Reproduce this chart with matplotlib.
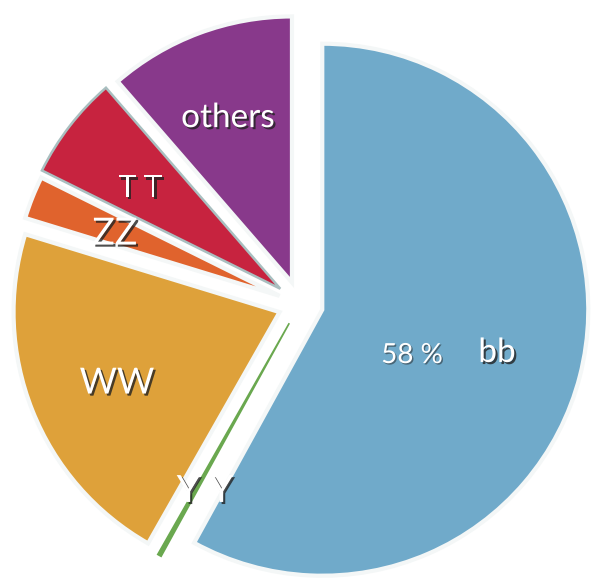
import numpy as np
import matplotlib.pyplot as plt
import matplotlib.patheffects as pe

# Higgs boson decay branching ratios (percent), counter-clockwise from the top
channels = ["others", "T T", "ZZ", "WW", "Y Y", "bb"]
fractions = [11.37, 6.3, 2.6, 21.5, 0.23, 58.0]
colors = ["#88398b", "#c7233f", "#e0632d", "#dea13a", "#6aa84f", "#70aaca"]
explode = [23, 25, 22, 22, 22, 23]

# label placement: (radial fraction, angle shift in deg, font size)
label_pos = {
    "others": (0.663, 0.8, 24),
    "T T": (0.649, 2.0, 22),
    "ZZ": (0.662, 1.0, 27),
    "WW": (0.667, 1.9, 26),
    "Y Y": (0.706, 2.5, 27),
    "bb": (0.677, 0.5, 24),
}

plt.rcParams["font.family"] = ["Lato", "DejaVu Sans"]

fig = plt.figure(figsize=(5.91, 5.83), dpi=100)
ax = fig.add_axes([0, 0, 1, 1])

R = 266
wedges, _ = ax.pie(fractions, colors=colors, startangle=90, counterclock=True,
                   explode=explode, radius=R, center=(300, 279),
                   wedgeprops=dict(edgecolor="#f4f7f7", linewidth=3))

# the gamma-gamma sliver is just a green line
wedges[4].set_edgecolor("#6aa84f")
wedges[4].set_linewidth(1.2)
# thin grey seam on the tau-tau wedge
wedges[1].set_edgecolor("#a9bfc0")
wedges[1].set_linewidth(1.8)


def shadowed(dx=1.5, alpha=0.8):
    return [pe.SimplePatchShadow(offset=(dx, -dx), shadow_rgbFace="#222222", alpha=alpha), pe.Normal()]


def polar_xy(w, frac, shift):
    ang = np.deg2rad(0.5 * (w.theta1 + w.theta2) + shift)
    cx, cy = w.center
    return cx + frac * R * np.cos(ang), cy + frac * R * np.sin(ang)


for w, name in zip(wedges, channels):
    frac, shift, size = label_pos[name]
    x, y = polar_xy(w, frac, shift)
    ax.text(x, y, name, color="white", fontsize=size, ha="center", va="center",
            path_effects=shadowed())

# percentage for the dominant channel
x, y = polar_xy(wedges[5], 0.378, -12.4)
ax.text(x, y, f"{fractions[5]:.0f} %", color="white", fontsize=20,
        ha="center", va="center", path_effects=shadowed(1, 0.5))

ax.set_xlim(0, 591)
ax.set_ylim(0, 583)
ax.set_aspect("equal")
ax.axis("off")

fig.savefig("out.png", dpi=100)
